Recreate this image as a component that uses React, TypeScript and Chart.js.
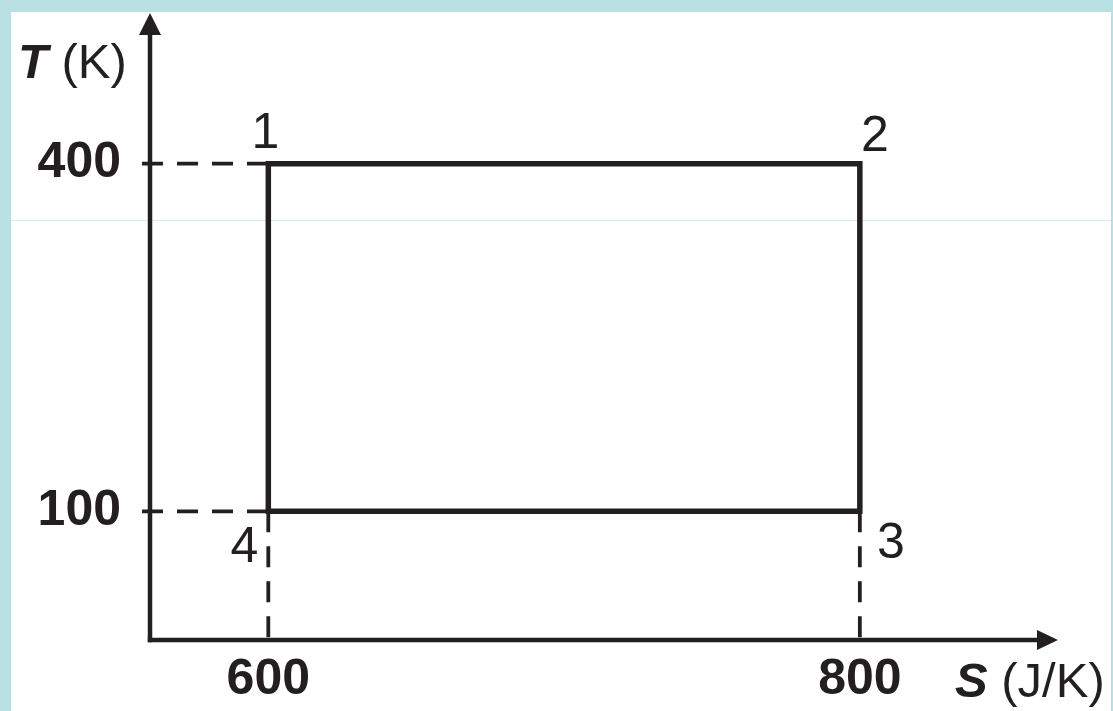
import React, { useEffect, useRef } from "react";
import { Chart, registerables } from "chart.js";

Chart.register(...registerables);

// ---- data (T–S diagram of a Carnot cycle) ----
const stateLabels = ["1", "2", "3", "4"];
const entropyS = [600, 800, 800, 600]; // S in J/K
const temperatureT = [400, 400, 100, 100]; // T in K
const sTicks = [600, 800];
const tTicks = [100, 400];
const sRange = [560, 867];
const tRange = [-11, 530];
const guideStartS = 557.3;

const INK = "#231f20";
const FONT = "'Liberation Sans', Arial, Helvetica, sans-serif";

export default function App() {
  const ref = useRef<HTMLCanvasElement | null>(null);

  useEffect(() => {
    if (!ref.current) return;

    const cycle = [...entropyS, entropyS[0]].map((s, i) => ({
      x: s,
      y: [...temperatureT, temperatureT[0]][i],
    }));

    const guide = (pts: { x: number; y: number }[]) => ({
      data: pts,
      borderColor: INK,
      borderWidth: 3.8,
      borderDash: [21, 14],
      pointRadius: 0,
      clip: false as any,
      fill: false,
      tension: 0,
    });

    const labelOffsets = [
      [-3, -16],
      [15, -13],
      [31, 47],
      [-24, 51],
    ];

    const overlay = {
      id: "overlay",
      beforeDatasetsDraw(chart: any) {
        const ctx = chart.ctx as CanvasRenderingContext2D;
        const xs = chart.scales.x;
        const ys = chart.scales.y;
        const x0 = xs.getPixelForValue(sRange[0]);
        const x1 = xs.getPixelForValue(sRange[1]);
        const y0 = ys.getPixelForValue(tRange[0]);
        const y1 = ys.getPixelForValue(tRange[1]);
        ctx.save();
        ctx.strokeStyle = INK;
        ctx.fillStyle = INK;
        ctx.lineWidth = 4.5;
        ctx.lineCap = "butt";
        // y axis
        ctx.beginPath();
        ctx.moveTo(x0, y0 + 2.2);
        ctx.lineTo(x0, y1 + 20);
        ctx.stroke();
        // x axis
        ctx.beginPath();
        ctx.moveTo(x0 - 2.2, y0);
        ctx.lineTo(x1 - 20, y0);
        ctx.stroke();
        // arrowheads
        ctx.beginPath();
        ctx.moveTo(x0, y1);
        ctx.lineTo(x0 - 11, y1 + 22);
        ctx.lineTo(x0 + 11, y1 + 22);
        ctx.closePath();
        ctx.fill();
        ctx.beginPath();
        ctx.moveTo(x1, y0);
        ctx.lineTo(x1 - 21, y0 - 10);
        ctx.lineTo(x1 - 21, y0 + 10);
        ctx.closePath();
        ctx.fill();
        ctx.restore();
      },
      afterDatasetsDraw(chart: any) {
        const ctx = chart.ctx as CanvasRenderingContext2D;
        const xs = chart.scales.x;
        const ys = chart.scales.y;
        ctx.save();
        ctx.fillStyle = INK;
        ctx.textBaseline = "alphabetic";
        // state labels
        ctx.font = `50px ${FONT}`;
        ctx.textAlign = "center";
        stateLabels.forEach((lab, i) => {
          const px = xs.getPixelForValue(entropyS[i]);
          const py = ys.getPixelForValue(temperatureT[i]);
          ctx.fillText(lab, px + labelOffsets[i][0], py + labelOffsets[i][1]);
        });
        // axis titles
        ctx.textAlign = "left";
        const drawTitle = (sym: string, unit: string, x: number, y: number) => {
          ctx.font = `italic bold 49px ${FONT}`;
          ctx.fillText(sym, x, y);
          const w = ctx.measureText(sym).width;
          ctx.font = `49px ${FONT}`;
          ctx.fillText(" " + unit, x + w, y);
        };
        drawTitle("T", "(K)", 18, 78);
        drawTitle("S", "(J/K)", 955, 697);
        ctx.restore();
      },
    };

    const chart = new Chart(ref.current, {
      type: "line",
      data: {
        datasets: [
          {
            data: cycle,
            borderColor: INK,
            borderWidth: 5.5,
            pointRadius: 0,
            borderCapStyle: "square",
            borderJoinStyle: "miter",
            fill: false,
            tension: 0,
          } as any,
          guide([
            { x: guideStartS, y: temperatureT[0] },
            { x: entropyS[0], y: temperatureT[0] },
          ]),
          guide([
            { x: guideStartS, y: temperatureT[3] },
            { x: entropyS[3], y: temperatureT[3] },
          ]),
          guide([
            { x: entropyS[3], y: temperatureT[3] },
            { x: entropyS[3], y: tRange[0] },
          ]),
          guide([
            { x: entropyS[2], y: temperatureT[2] },
            { x: entropyS[2], y: tRange[0] },
          ]),
        ],
      },
      options: {
        animation: false,
        responsive: false,
        events: [],
        layout: { padding: { top: 13, right: 55, left: 0, bottom: 0 } },
        plugins: {
          legend: { display: false },
          tooltip: { enabled: false },
        },
        scales: {
          x: {
            type: "linear",
            min: sRange[0],
            max: sRange[1],
            afterFit: (s: any) => {
              s.height = 71;
              s.paddingLeft = 0;
              s.paddingRight = 0;
              s.paddingTop = 0;
              s.paddingBottom = 0;
            },
            afterBuildTicks: (s: any) => {
              s.ticks = sTicks.map((v) => ({ value: v }));
            },
            grid: { display: false, drawTicks: false },
            border: { display: false },
            ticks: {
              autoSkip: false,
              maxRotation: 0,
              padding: 15,
              color: INK,
              font: { family: FONT, size: 50, weight: "bold", lineHeight: 1 },
            },
          },
          y: {
            type: "linear",
            min: tRange[0],
            max: tRange[1],
            afterFit: (s: any) => {
              s.width = 150;
              s.paddingLeft = 0;
              s.paddingRight = 0;
              s.paddingTop = 0;
              s.paddingBottom = 0;
            },
            afterBuildTicks: (s: any) => {
              s.ticks = tTicks.map((v) => ({ value: v }));
            },
            grid: { display: false, drawTicks: false },
            border: { display: false },
            ticks: {
              autoSkip: false,
              padding: 29,
              color: INK,
              font: { family: FONT, size: 50, weight: "bold", lineHeight: 1 },
            },
          },
        } as any,
      },
      plugins: [overlay],
    });

    return () => chart.destroy();
  }, []);

  return (
    <div
      style={{
        position: "fixed",
        left: 0,
        top: 0,
        width: 1113,
        height: 711,
        background: "#b9e0e3",
        overflow: "hidden",
      }}
    >
      <div
        style={{
          position: "absolute",
          left: 11,
          top: 12,
          width: 1100,
          height: 699,
          background: "#ffffff",
        }}
      />
      <div
        style={{
          position: "absolute",
          left: 11,
          top: 220,
          width: 1100,
          height: 1,
          background: "#d6eeef",
        }}
      />
      <canvas
        ref={ref}
        width={1113}
        height={711}
        style={{ position: "absolute", left: 0, top: 0 }}
      />
    </div>
  );
}
